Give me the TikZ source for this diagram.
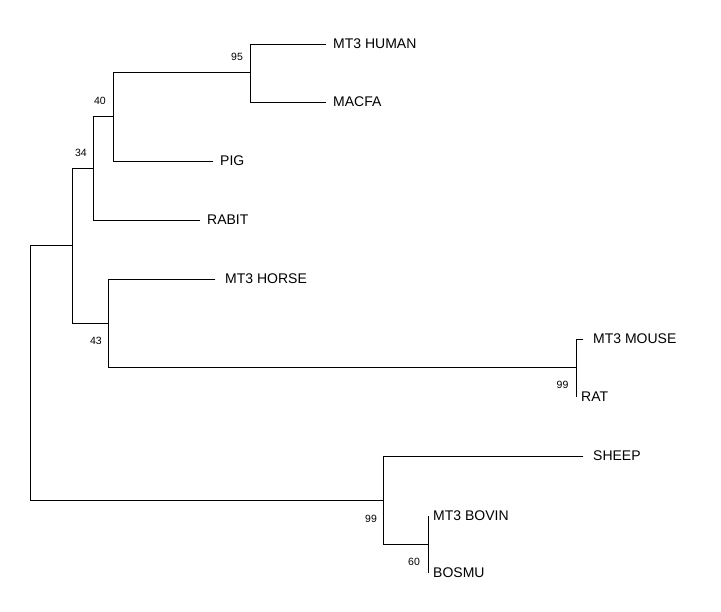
\documentclass[tikz,border=0pt]{standalone}
\usepackage{fontspec}
\setmainfont{Liberation Sans}
\begin{document}
\begin{tikzpicture}[x=1pt,y=-1pt,
  branch/.style={line width=0.95pt, line cap=rect},
  leaf/.style={anchor=west, inner sep=0pt, font=\fontsize{14}{16}\selectfont},
  boot/.style={inner sep=0pt, font=\fontsize{10.5}{12}\selectfont}]
\useasboundingbox (0,0) rectangle (721,612);
% internal nodes
\coordinate (root) at (30,372);
\coordinate (nF) at (72,245);
\coordinate (nC) at (93,168);
\coordinate (nB) at (113,116);
\coordinate (nA) at (250,72);
\coordinate (nD) at (108,323);
\coordinate (nE) at (576,367);
\coordinate (nG) at (383,500);
\coordinate (nH) at (428,544);
% leaf ends
\coordinate (eHUMAN) at (326,44);
\coordinate (eMACFA) at (326,102);
\coordinate (ePIG) at (213,161);
\coordinate (eRABIT) at (200,220);
\coordinate (eHORSE) at (215,279);
\coordinate (eMOUSE) at (583,339);
\coordinate (eRAT) at (576,397);
\coordinate (eSHEEP) at (583,456);
\coordinate (eBOVIN) at (428,516);
\coordinate (eBOSMU) at (428,573);
% branches
\draw[branch] (root) |- (nF);
\draw[branch] (root) |- (nG);
\draw[branch] (nF) |- (nC);
\draw[branch] (nF) |- (nD);
\draw[branch] (nC) |- (nB);
\draw[branch] (nC) |- (eRABIT);
\draw[branch] (nB) |- (nA);
\draw[branch] (nB) |- (ePIG);
\draw[branch] (nA) |- (eHUMAN);
\draw[branch] (nA) |- (eMACFA);
\draw[branch] (nD) |- (eHORSE);
\draw[branch] (nD) |- (nE);
\draw[branch] (nE) |- (eMOUSE);
\draw[branch] (nE) |- (eRAT);
\draw[branch] (nG) |- (eSHEEP);
\draw[branch] (nG) |- (nH);
\draw[branch] (nH) |- (eBOVIN);
\draw[branch] (nH) |- (eBOSMU);
% leaf labels
\node[leaf] (lHUMAN) at (333,44) {MT3 HUMAN};
\node[leaf] (lMACFA) at (333,102) {MACFA};
\node[leaf] (lPIG) at (220,161) {PIG};
\node[leaf] (lRABIT) at (207,220) {RABIT};
\node[leaf] (lHORSE) at (225,279) {MT3 HORSE};
\node[leaf] (lMOUSE) at (593,339) {MT3 MOUSE};
\node[leaf] (lRAT) at (581,397) {RAT};
\node[leaf] (lSHEEP) at (593,456) {SHEEP};
\node[leaf] (lBOVIN) at (433,516) {MT3 BOVIN};
\node[leaf] (lBOSMU) at (433,573) {BOSMU};
% bootstrap values
\node[boot] (b95) at (237,57) {95};
\node[boot] (b40) at (100,101) {40};
\node[boot] (b34) at (81,153) {34};
\node[boot] (b43) at (96,341) {43};
\node[boot] (b99a) at (562.5,385) {99};
\node[boot] (b99b) at (371,519) {99};
\node[boot] (b60) at (414,562) {60};
\end{tikzpicture}
\end{document}
